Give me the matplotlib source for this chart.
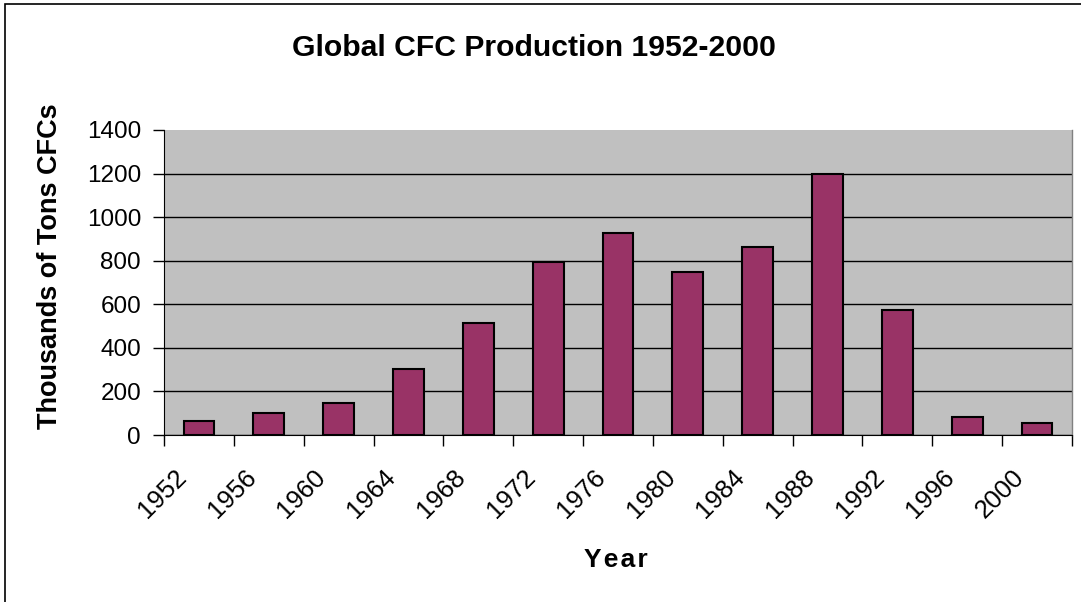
import matplotlib.pyplot as plt
import numpy as np
from matplotlib.patches import Rectangle

plt.rcParams["font.family"] = ["Liberation Sans", "DejaVu Sans"]

# Data
years = ["1952", "1956", "1960", "1964", "1968", "1972", "1976",
         "1980", "1984", "1988", "1992", "1996", "2000"]
production = [64, 101, 147, 303, 514, 796, 925, 750, 862, 1200, 576, 83, 55]
y_ticks = [0, 200, 400, 600, 800, 1000, 1200, 1400]

W, H = 1081, 602
fig = plt.figure(figsize=(W / 100, H / 100), dpi=100)

# plot area in pixels: left 164, right 1072, top 130, bottom 435
ax = fig.add_axes([164 / W, 1 - 435 / H, (1072 - 164) / W, (435 - 130) / H])
ax.set_facecolor("#C0C0C0")

x = np.arange(len(years))
ax.bar(x, production, width=0.44, color="#993366", edgecolor="black",
       linewidth=1.5, zorder=3)

ax.set_xlim(-0.5, len(years) - 0.5)
ax.set_ylim(0, 1400)
ax.set_yticks(y_ticks)
ax.set_yticklabels([str(v) for v in y_ticks], fontsize=17.5)
ax.yaxis.grid(True, color="black", linewidth=1, zorder=1)
ax.yaxis.get_gridlines()[-1].set_visible(False)

# tick marks sit between the categories, labels are slanted under the bars
ax.set_xticks(x)
ax.set_xticklabels([])
ax.set_xticks(np.arange(len(years) + 1) - 0.5, minor=True)
ax.tick_params(axis="x", which="major", length=0)
ax.tick_params(axis="x", which="minor", length=8, direction="out", width=1)
ax.tick_params(axis="y", length=8, direction="out", width=1, pad=8.5)

for i, year in enumerate(years):
    ax.annotate(year, xy=(i, 0), xycoords=("data", "axes fraction"),
                xytext=(-25, -30), textcoords="offset pixels",
                rotation=45, ha="right", va="top", rotation_mode="anchor",
                fontsize=18.5, annotation_clip=False)

for side in ["top", "right"]:
    ax.spines[side].set_visible(False)
ax.spines["left"].set_color("black")
ax.spines["bottom"].set_color("black")
ax.plot([1, 1], [0, 1], transform=ax.transAxes, color="#808080",
        linewidth=1, clip_on=False)

fig.text(534 / W, 1 - 56 / H, "Global CFC Production 1952-2000",
         fontsize=21.7, fontweight="bold", ha="center", va="baseline")
fig.text(50 / W, 1 - 266 / H, "Thousands of Tons CFCs", fontsize=19.5,
         fontweight="bold", rotation=90, ha="center", va="center")
fig.text(616 / W, 1 - 567 / H, "Y e a r".replace(" ", "\u200a"),
         fontsize=19, fontweight="bold", ha="center", va="baseline")

# outer chart border
fig.patches.append(Rectangle((5 / W, -0.01), 1.1, 1 - 4 / H + 0.01,
                             transform=fig.transFigure, fill=False,
                             edgecolor="black", linewidth=1.2))

fig.savefig("out.png", dpi=100)
